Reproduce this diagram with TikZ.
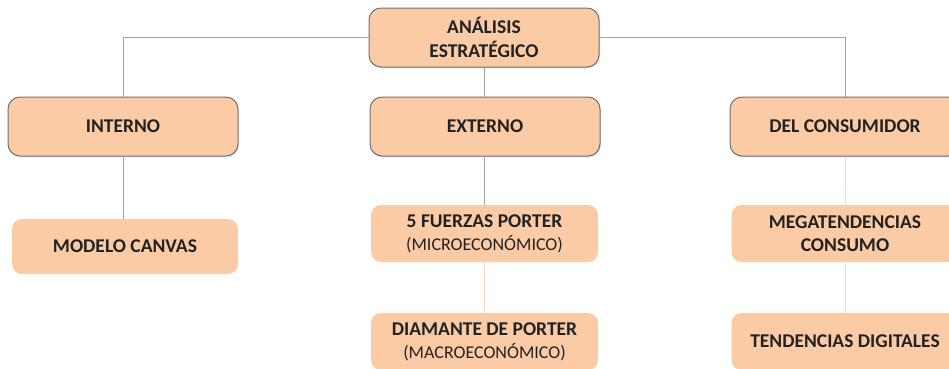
\documentclass[tikz,border=0pt]{standalone}
\usepackage{fontspec}
\setmainfont{Carlito}
\usetikzlibrary{shadows}
\definecolor{durazno}{HTML}{FBCBA6}
\definecolor{borde}{HTML}{707070}
\definecolor{gris}{HTML}{A3A3A3}
\definecolor{tenue}{HTML}{FCD9BF}
\definecolor{texto}{HTML}{222222}
\newcommand{\sub}[1]{{\fontsize{18}{20}\selectfont\mdseries #1}}
\begin{document}
\begin{tikzpicture}[x=1pt,y=-1pt,
    caja/.style={draw=borde, fill=durazno, line width=1pt, rounded corners=12pt,
        minimum width=230pt, minimum height=59pt, align=center, text=texto,
        font=\fontsize{19.5}{24}\selectfont\bfseries,
        drop shadow={opacity=0.2, shadow xshift=1pt, shadow yshift=-1.5pt}},
    hoja/.style={fill=durazno, rounded corners=10pt, minimum width=227pt,
        minimum height=57pt, align=center, text=texto,
        font=\fontsize{19.5}{23}\selectfont\bfseries},
    linea/.style={draw=gris, line width=0.9pt},
    suave/.style={draw=tenue, line width=0.9pt}]
    \useasboundingbox (0,0) rectangle (949,368);
    % nivel superior
    \node[caja] (analisis) at (484,37.5) {ANÁLISIS\\ESTRATÉGICO};
    \node[caja] (interno) at (123,126.5) {INTERNO};
    \node[caja] (externo) at (485,126.5) {EXTERNO};
    \node[caja] (consumidor) at (845,126.5) {DEL CONSUMIDOR};
    % hojas
    \node[hoja, minimum width=226pt, minimum height=55pt] (canvas) at (125,246.5) {MODELO CANVAS};
    \node[hoja] (fuerzas) at (484.5,233.5) {5 FUERZAS PORTER\\\sub{(MICROECONÓMICO)}};
    \node[hoja] (diamante) at (484.5,341.5) {DIAMANTE DE PORTER\\\sub{(MACROECONÓMICO)}};
    \node[hoja] (mega) at (845,233.5) {MEGATENDENCIAS\\CONSUMO};
    \node[hoja] (tendencias) at (845,341.5) {TENDENCIAS DIGITALES};
    % conectores
    \draw[linea] (analisis.west) -| (interno.north);
    \draw[linea] (analisis.east) -| (consumidor.north);
    \draw[linea] (analisis.south) -- (analisis.south |- externo.north);
    \draw[linea] (interno.south) -- (interno.south |- canvas.north);
    \draw[linea] (externo.south -| fuerzas.north) -- (fuerzas.north);
    \draw[suave] (fuerzas.south) -- (diamante.north);
    \draw[suave] (consumidor.south) -- (mega.north);
    \draw[suave] (mega.south) -- (tendencias.north);
\end{tikzpicture}
\end{document}
